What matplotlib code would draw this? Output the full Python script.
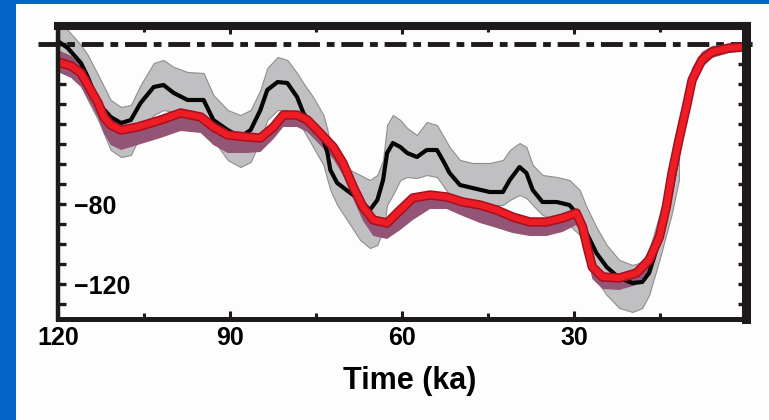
"""Sea level curves, 120 ka to present"""
import matplotlib
matplotlib.use('Agg')
import matplotlib.pyplot as plt
from matplotlib.patches import Rectangle

plt.rcParams['font.family'] = ['Liberation Sans', 'DejaVu Sans']
plt.rcParams['font.weight'] = 'bold'

# black curve with grey envelope (time in ka, sea level in m)
black_t = [119.8, 118.3, 116.0, 114.8, 113.0, 110.8, 109.0, 107.3, 105.6, 103.3,
           101.6, 99.8, 97.4, 94.6, 92.9, 90.4, 88.2, 86.4, 84.7, 83.5,
           81.7, 80.0, 78.3, 77.2, 75.5, 73.7, 73.0, 72.5, 71.3, 69.0,
           67.3, 65.6, 64.3, 63.3, 62.6, 61.6, 60.3, 59.1, 57.4, 55.7,
           53.9, 52.9, 51.7, 49.9, 47.7, 44.7, 42.4, 41.2, 39.5, 38.3,
           37.2, 35.5, 33.0, 30.8, 29.0, 27.8, 26.1, 24.3, 22.1, 19.8,
           18.1, 16.9, 15.1, 13.0, 11.7]
black_sl = [1, -2, -9.5, -16.5, -29.5, -36.5, -39.5, -38, -29.5, -21.5,
            -20.5, -24.5, -28, -28, -38, -43, -46.5, -43, -33, -23,
            -19, -19.5, -26.5, -34.5, -41.5, -48, -54.5, -63, -69.5, -74.5,
            -78, -83, -78, -68, -54.5, -49.5, -51.5, -54.5, -56.5, -53,
            -53, -58, -64.5, -70.5, -72, -74, -74, -68, -61.5, -64.5,
            -73, -79, -79, -80.5, -86.5, -94.5, -104.5, -111.5, -117, -119.5,
            -119, -114.5, -98, -73, -53]
grey_hi = [12, 7, -0.5, -5.5, -15.5, -28, -31.5, -30.5, -20.5, -9.5,
           -8, -11.5, -14, -14.5, -25.5, -33, -35.5, -33, -23, -12,
           -6.5, -8, -14.5, -19.5, -26.5, -35.5, -43, -50.5, -58, -63,
           -65.5, -68, -65.5, -58, -40.5, -35.5, -38, -42, -45.5, -39,
           -40.5, -45.5, -51.5, -58, -59.5, -59.5, -58, -53, -49.5, -51.5,
           -60.5, -65.5, -66.5, -68, -73, -81.5, -91.5, -100.5, -108, -110.5,
           -109, -103, -85.5, -63, -43]
grey_lo = [-7, -10.5, -20.5, -28, -38, -53, -56.5, -55.5, -45.5, -35.5,
           -33, -34, -35.5, -38, -48, -58, -61.5, -59, -48, -38,
           -33, -33, -37, -43, -51.5, -60.5, -68, -73, -80.5, -90.5,
           -98, -102, -100.5, -93, -80.5, -75.5, -68, -66.5, -67, -65.5,
           -66.5, -70.5, -75.5, -78, -79.5, -80.5, -80.5, -78, -75.5, -77,
           -80.5, -85.5, -88, -90.5, -95.5, -104.5, -118, -125.5, -132, -134,
           -132, -125.5, -108, -85.5, -68]

# red curve with its band
red_t = [120.0, 117.7, 116.0, 114.3, 113.0, 112.0, 110.8, 109.0, 106.1, 102.1,
         98.6, 95.1, 92.9, 90.4, 87.0, 84.7, 82.4, 80.7, 78.3, 76.5,
         74.3, 72.0, 70.3, 68.5, 66.8, 65.0, 62.6, 60.3, 58.1, 55.1,
         52.2, 49.4, 46.4, 43.5, 40.7, 37.7, 34.8, 32.0, 29.6, 28.5,
         27.7, 26.8, 25.0, 22.1, 19.1, 16.9, 15.1, 13.9, 12.9, 11.7,
         10.4, 9.4, 7.7, 5.9, 3.0, 0.0]
red_sl = [-9, -11, -14.5, -23, -29.5, -36.5, -40.5, -43, -41.5, -38,
          -34.5, -36.5, -41.5, -45.5, -46.5, -47, -41.5, -35.5, -35.5, -38,
          -44.5, -51.5, -59.5, -71.5, -81.5, -88, -89.5, -83, -77, -75.5,
          -76.5, -79, -80.5, -83, -86.5, -89, -89, -87, -84.5, -91.5,
          -101.5, -111.5, -116.5, -117, -114.5, -108, -96.5, -81.5, -64.5, -48,
          -31.5, -18, -8, -4, -2, -1.5]
red_err_up = [6, 5, 4, 3, 2, 2, 2, 2, 2, 2,
              2, 2, 2, 2, 2, 2, 2, 2, 2, 2,
              2, 2, 2, 2, 2, 2, 2, 2, 2, 2,
              2, 2, 2, 2, 2, 2, 2, 2, 2, 2,
              2, 2, 2, 2, 2, 4, 8, 10, 10, 10,
              8, 6, 4, 3, 2, 2]
red_err_dn = [5, 6, 7, 7, 7.5, 8, 10, 10, 9, 9,
              9, 8, 9, 9, 8, 7, 6, 6, 6, 6,
              6, 6, 6, 6, 7, 8, 8, 10, 11, 7,
              6, 7, 9, 9, 8, 7, 7, 7, 6, 5,
              5, 6, 6, 6, 6, 5, 5, 5, 5, 5,
              5, 5, 4, 3, 2.5, 2]

xtick_pos = [120, 90, 60, 30, 0]
xtick_lab = ['120', '90', '60', '30', '']
xtick_minor = [105, 75, 45, 15]
ytick_pos = [-130, -120, -110, -100, -90, -80, -70, -60, -50, -40, -30, -20, -10, 0]
ytick_shown = {-80: '\u221280', -120: '\u2212120'}

fig = plt.figure(figsize=(7.69, 4.20), dpi=100, facecolor='#0463c6')
fig.patches.append(Rectangle((16 / 769, 0), 1, 1 - 4 / 420, transform=fig.transFigure,
                             facecolor='#fdfdfd', edgecolor='none', zorder=-5))

ax = fig.add_axes([58 / 769, 1 - 319 / 420, 688 / 769, 293 / 420])
ax.set_facecolor('#fdfdfd')

# envelopes and curves
ax.fill_between(black_t, grey_lo, grey_hi, facecolor='#c0c0c2', edgecolor='#8e8e8e',
                linewidth=0.8, zorder=1)
ax.axhline(0, xmin=-0.029, xmax=1.013, color='#1e1a1a', linewidth=3.5,
           dashes=(4.5, 1.4, 1.6, 1.4), clip_on=False, zorder=1.5)
red_hi = [v + e for v, e in zip(red_sl, red_err_up)]
red_lo = [v - e for v, e in zip(red_sl, red_err_dn)]
ax.fill_between(red_t, red_lo, red_hi, facecolor='#935475', edgecolor='none', zorder=2)
ax.plot(black_t, black_sl, color='#050505', linewidth=3, zorder=3)
ax.plot(red_t, red_sl, color='#a5101e', linewidth=6.8, zorder=4, solid_capstyle='butt')
ax.plot(red_t, red_sl, color='#ee1c24', linewidth=4.6, zorder=5, solid_capstyle='butt')

ax.set_xlim(120, 0)
ax.set_ylim(-137.5, 9)

# frame
for side, lw in [('left', 3.2), ('bottom', 3.6), ('top', 5.8), ('right', 6.5)]:
    ax.spines[side].set_linewidth(lw)
    ax.spines[side].set_color('#1e1a1a')
    ax.spines[side].set_zorder(6)

ax.set_xticks(xtick_pos)
ax.set_xticklabels(xtick_lab)
ax.set_xticks(xtick_minor, minor=True)
ax.tick_params(axis='x', which='major', direction='in', top=True, bottom=True,
               length=6, width=2.2, color='#1e1a1a', labelsize=18, pad=5)
ax.tick_params(axis='x', which='minor', direction='in', top=True, bottom=True,
               length=4.5, width=2.2, color='#1e1a1a')

ax.set_yticks(ytick_pos)
ax.set_yticklabels([ytick_shown.get(v, '') for v in ytick_pos])
ax.tick_params(axis='y', direction='in', left=True, right=True, length=5.5,
               width=2.4, color='#1e1a1a', labelsize=18, pad=-11.5)
for lab in ax.get_yticklabels():
    lab.set_horizontalalignment('left')

ax.set_xlabel('Time (ka)', fontsize=22, fontweight='bold', va='top')
ax.xaxis.set_label_coords(0.511, -0.162)

fig.savefig('out.png', dpi=100, facecolor=fig.get_facecolor())
